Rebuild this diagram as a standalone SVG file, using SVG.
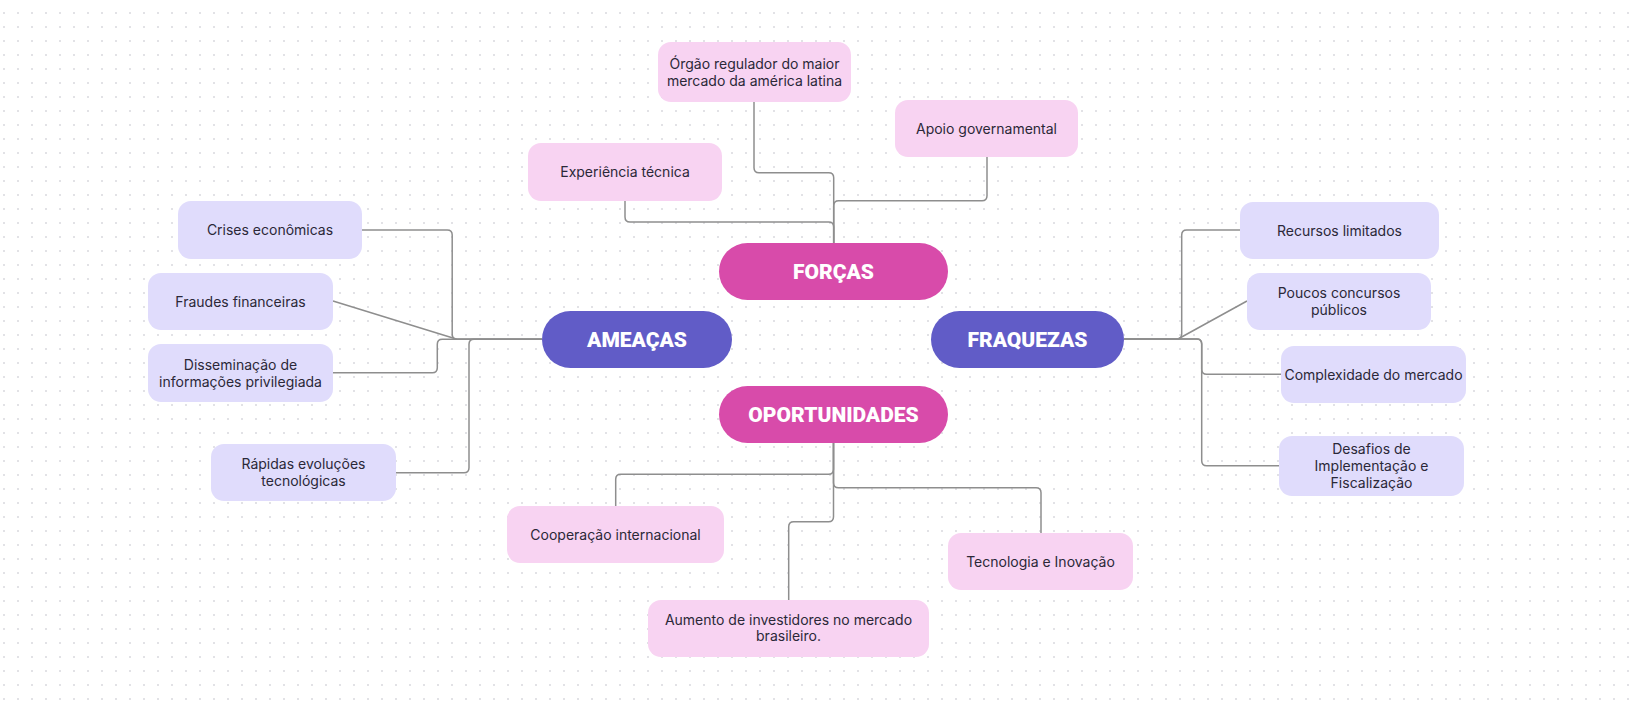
<svg xmlns="http://www.w3.org/2000/svg" width="1638" height="702" viewBox="0 0 1638 702">
<defs>
<pattern id="dots" patternUnits="userSpaceOnUse" x="-3" y="6" width="14" height="14">
<circle cx="7" cy="7" r="1" fill="#d9d9de"/>
</pattern>
<style>
.conn{fill:none;stroke:#8e8e8e;stroke-width:1.5;stroke-linejoin:round}
.pink{fill:#f8d3f2}
.lav{fill:#e0dcfc}
.cp{fill:#d84baa}
.cb{fill:#615cc7}
.lt{font-family:Inter,"Liberation Sans",sans-serif;font-size:14px;fill:#2b2838;text-anchor:middle}
.ct{font-family:Roboto,"Liberation Sans",sans-serif;font-weight:900;font-size:21px;fill:#ffffff;text-anchor:middle}
</style>
</defs>
<rect width="1638" height="702" fill="#ffffff"/>
<rect width="1638" height="702" fill="url(#dots)"/>
<g id="connectors">
<path class="conn" d="M754,102 V167.7 Q754,172.7 759,172.7 H828.7 Q833.7,172.7 833.7,177.7 V243"/>
<path class="conn" d="M987,157 V195.7 Q987,200.7 982,200.7 H838.7 Q833.7,200.7 833.7,205.7 V243"/>
<path class="conn" d="M625,201 V217 Q625,222 630,222 H828.7 Q833.7,222 833.7,227 V243"/>
<path class="conn" d="M362,230 H447.2 Q452.2,230 452.2,235 V334.3 Q452.2,339.3 457.2,339.3 H542"/>
<path class="conn" d="M333,301 L457,339.3 H542"/>
<path class="conn" d="M333,372.7 H432.3 Q437.3,372.7 437.3,367.7 V344.3 Q437.3,339.3 442.3,339.3 H542"/>
<path class="conn" d="M396,472.7 H464 Q469,472.7 469,467.7 V344.3 Q469,339.3 474,339.3 H542"/>
<path class="conn" d="M1240,230 H1186.7 Q1181.7,230 1181.7,235 V334 Q1181.7,339 1176.7,339 H1124"/>
<path class="conn" d="M1247,301 L1178,339 H1124"/>
<path class="conn" d="M1124,339 H1196.7 Q1201.7,339 1201.7,344 V369.3 Q1201.7,374.3 1206.7,374.3 H1281"/>
<path class="conn" d="M1124,339 H1196.7 Q1201.7,339 1201.7,344 V460.7 Q1201.7,465.7 1206.7,465.7 H1279"/>
<path class="conn" d="M833.5,443 V469.3 Q833.5,474.3 828.5,474.3 H620.7 Q615.7,474.3 615.7,479.3 V506"/>
<path class="conn" d="M833.5,443 V482.7 Q833.5,487.7 838.5,487.7 H1036 Q1041,487.7 1041,492.7 V533"/>
<path class="conn" d="M833.5,443 V516.7 Q833.5,521.7 828.5,521.7 H793.7 Q788.7,521.7 788.7,526.7 V600"/>
</g>
<g id="forcas"><rect class="cp" x="719" y="243" width="229" height="57" rx="28.5"/><text class="ct" x="833.5" y="279">FORÇAS</text></g>
<g id="ameacas"><rect class="cb" x="542" y="311" width="190" height="57" rx="28.5"/><text class="ct" x="637" y="347">AMEAÇAS</text></g>
<g id="fraquezas"><rect class="cb" x="931" y="311" width="193" height="57" rx="28.5"/><text class="ct" x="1027.5" y="347">FRAQUEZAS</text></g>
<g id="oportunidades"><rect class="cp" x="719" y="386" width="229" height="57" rx="28.5"/><text class="ct" x="833.5" y="422">OPORTUNIDADES</text></g>
<g id="orgao"><rect class="pink" x="658" y="42" width="193" height="60" rx="13"/><text class="lt" x="754.5" y="69.3">Órgão regulador do maior</text><text class="lt" x="754.5" y="86">mercado da américa latina</text></g>
<g id="apoio"><rect class="pink" x="895" y="100" width="183" height="57" rx="13"/><text class="lt" x="986.5" y="134">Apoio governamental</text></g>
<g id="experiencia"><rect class="pink" x="528" y="143" width="194" height="58" rx="13"/><text class="lt" x="625" y="177">Experiência técnica</text></g>
<g id="crises"><rect class="lav" x="178" y="201" width="184" height="58" rx="13"/><text class="lt" x="270" y="235">Crises econômicas</text></g>
<g id="fraudes"><rect class="lav" x="148" y="273" width="185" height="57" rx="13"/><text class="lt" x="240.5" y="306.5">Fraudes financeiras</text></g>
<g id="disseminacao"><rect class="lav" x="148" y="344" width="185" height="58" rx="13"/><text class="lt" x="240.5" y="370">Disseminação de</text><text class="lt" x="240.5" y="386.5">informações privilegiada</text></g>
<g id="rapidas"><rect class="lav" x="211" y="444" width="185" height="57" rx="13"/><text class="lt" x="303.5" y="469">Rápidas evoluções</text><text class="lt" x="303.5" y="485.7">tecnológicas</text></g>
<g id="recursos"><rect class="lav" x="1240" y="202" width="199" height="57" rx="13"/><text class="lt" x="1339.5" y="235.5">Recursos limitados</text></g>
<g id="poucos"><rect class="lav" x="1247" y="273" width="184" height="57" rx="13"/><text class="lt" x="1339" y="298.3">Poucos concursos</text><text class="lt" x="1339" y="315">públicos</text></g>
<g id="complexidade"><rect class="lav" x="1281" y="346" width="185" height="57" rx="13"/><text class="lt" x="1373.5" y="379.5">Complexidade do mercado</text></g>
<g id="desafios"><rect class="lav" x="1279" y="436" width="185" height="60" rx="13"/><text class="lt" x="1371.5" y="454">Desafios de</text><text class="lt" x="1371.5" y="471.3">Implementação e</text><text class="lt" x="1371.5" y="488">Fiscalização</text></g>
<g id="cooperacao"><rect class="pink" x="507" y="506" width="217" height="57" rx="13"/><text class="lt" x="615.5" y="539.5">Cooperação internacional</text></g>
<g id="tecnologia"><rect class="pink" x="948" y="533" width="185" height="57" rx="13"/><text class="lt" x="1040.5" y="566.5">Tecnologia e Inovação</text></g>
<g id="aumento"><rect class="pink" x="648" y="600" width="281" height="57" rx="13"/><text class="lt" x="788.5" y="624.7">Aumento de investidores no mercado</text><text class="lt" x="788.5" y="641.4">brasileiro.</text></g>
</svg>
